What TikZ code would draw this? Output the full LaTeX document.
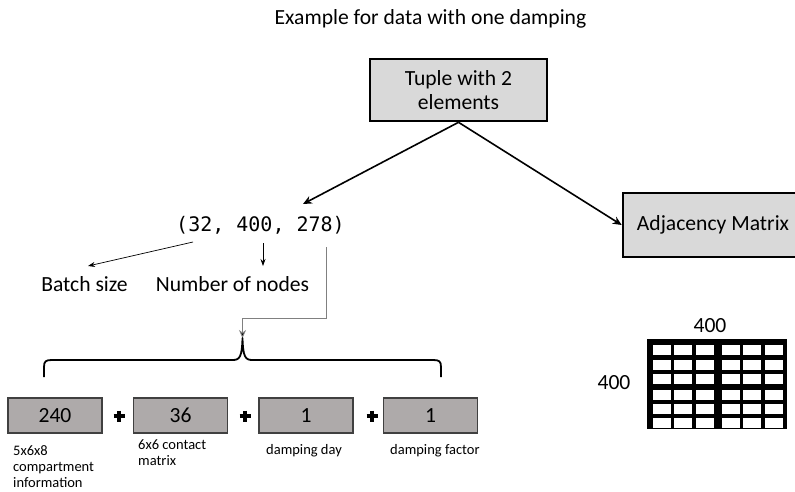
\documentclass[tikz,border=0pt]{standalone}
\usepackage{fontspec}
\setmainfont{Carlito}
\newfontfamily\codefont{DejaVu Sans Mono}
\usetikzlibrary{arrows.meta}
\definecolor{boxlight}{HTML}{D9D9D9}
\definecolor{boxdark}{HTML}{AEAAAA}
\definecolor{boxedge}{HTML}{404040}
\tikzset{
  big/.style={font=\fontsize{21.6}{24}\selectfont},
  small/.style={font=\fontsize{14.5}{15.7}\selectfont},
  headbox/.style={draw=black, line width=2.6pt, fill=boxlight, big, align=center, inner sep=0pt},
  valbox/.style={draw=boxedge, line width=1.3pt, fill=boxdark, big, minimum width=94pt, minimum height=35pt, inner sep=0pt},
  bigarrow/.style={line width=1.6pt, -{Stealth[length=9pt,width=8pt]}},
  thinarrow/.style={line width=0.7pt, -{Stealth[length=7pt,width=5pt]}},
  grayarrow/.style={line width=0.8pt, draw=gray, -{Stealth[length=8pt,width=7pt,fill=black]}},
  plussign/.style={line width=3.6pt},
}
\begin{document}
\begin{tikzpicture}[x=1pt,y=-1pt]
\useasboundingbox (0,0) rectangle (795,491);

\node[big] (title) at (430.5,19) {Example for data with one damping};

\node[headbox, minimum width=177pt, minimum height=62pt] (tup) at (458.5,90) {Tuple with 2\\elements};
\node[headbox, minimum width=180pt, minimum height=64pt] (adj) at (713,225) {Adjacency Matrix};

\node[font=\codefont\fontsize{20}{22}\selectfont, inner sep=0pt] (shape) at (260.5,225) {(32, 400, 278)};
\coordinate (shapeT) at (303,204);
\draw[bigarrow] (tup.south) -- (shapeT);
\draw[bigarrow] (tup.south) -- (adj.west);

\node[big, inner sep=0pt] (batch) at (84.5,284) {Batch size};
\node[big, inner sep=0pt] (nodes) at (232.5,284) {Number of nodes};

\coordinate (bS) at (193,242);
\coordinate (bE) at (88,266);
\draw[thinarrow] (bS) -- (bE);
\coordinate (nS) at (263,243);
\coordinate (nE) at (263,266);
\draw[thinarrow] (nS) -- (nE);

\coordinate (fS) at (326,247);
\coordinate (cusp) at (242.5,338);
\draw[grayarrow] (fS) -- (326,318) -- (242.5,318) -- (cusp);

% brace
\draw[line width=1.8pt, line join=round] (44,377) -- (44,367) .. controls (44,361) and (46,360) .. (52,360)
  -- (233,360) .. controls (240,360) and (242,356) .. (cusp)
  .. controls (243,356) and (245,360) .. (252,360)
  -- (433,360) .. controls (439,360) and (441,361) .. (441,367) -- (441,377);

% value boxes
\node[valbox] (v1) at (55,415.5) {240};
\node[valbox] (v2) at (180.5,415.5) {36};
\node[valbox] (v3) at (306,415.5) {1};
\node[valbox] (v4) at (430.5,415.5) {1};

\foreach \px in {119,245,372}{
  \draw[plussign] (\px-5.5,416) -- (\px+5.5,416);
  \draw[plussign] (\px,410.5) -- (\px,421.5);
}

\node[small, anchor=base west, align=left, inner sep=0pt] (l1) at (13,487) {5x6x8\\compartment\\information};
\node[small, anchor=base west, align=left, inner sep=0pt] (l2) at (138,465) {6x6 contact\\matrix};
\node[small, anchor=base west, inner sep=0pt] (l3) at (266,454) {damping day};
\node[small, anchor=base west, inner sep=0pt] (l4) at (390,454) {damping factor};

% adjacency grid
\fill[black] (647,339) rectangle (787,429);
\foreach \cx in {652.7,674.3,696,721.7,743.3,765}{
  \foreach \cy in {345,360,374,390,404,418.3}{
    \fill[white] (\cx,\cy) rectangle (\cx+18,\cy+9.5);
  }
}
\node[big, inner sep=0pt] (top400) at (710,326) {400};
\node[big, inner sep=0pt] (left400) at (614,383) {400};
\end{tikzpicture}
\end{document}
